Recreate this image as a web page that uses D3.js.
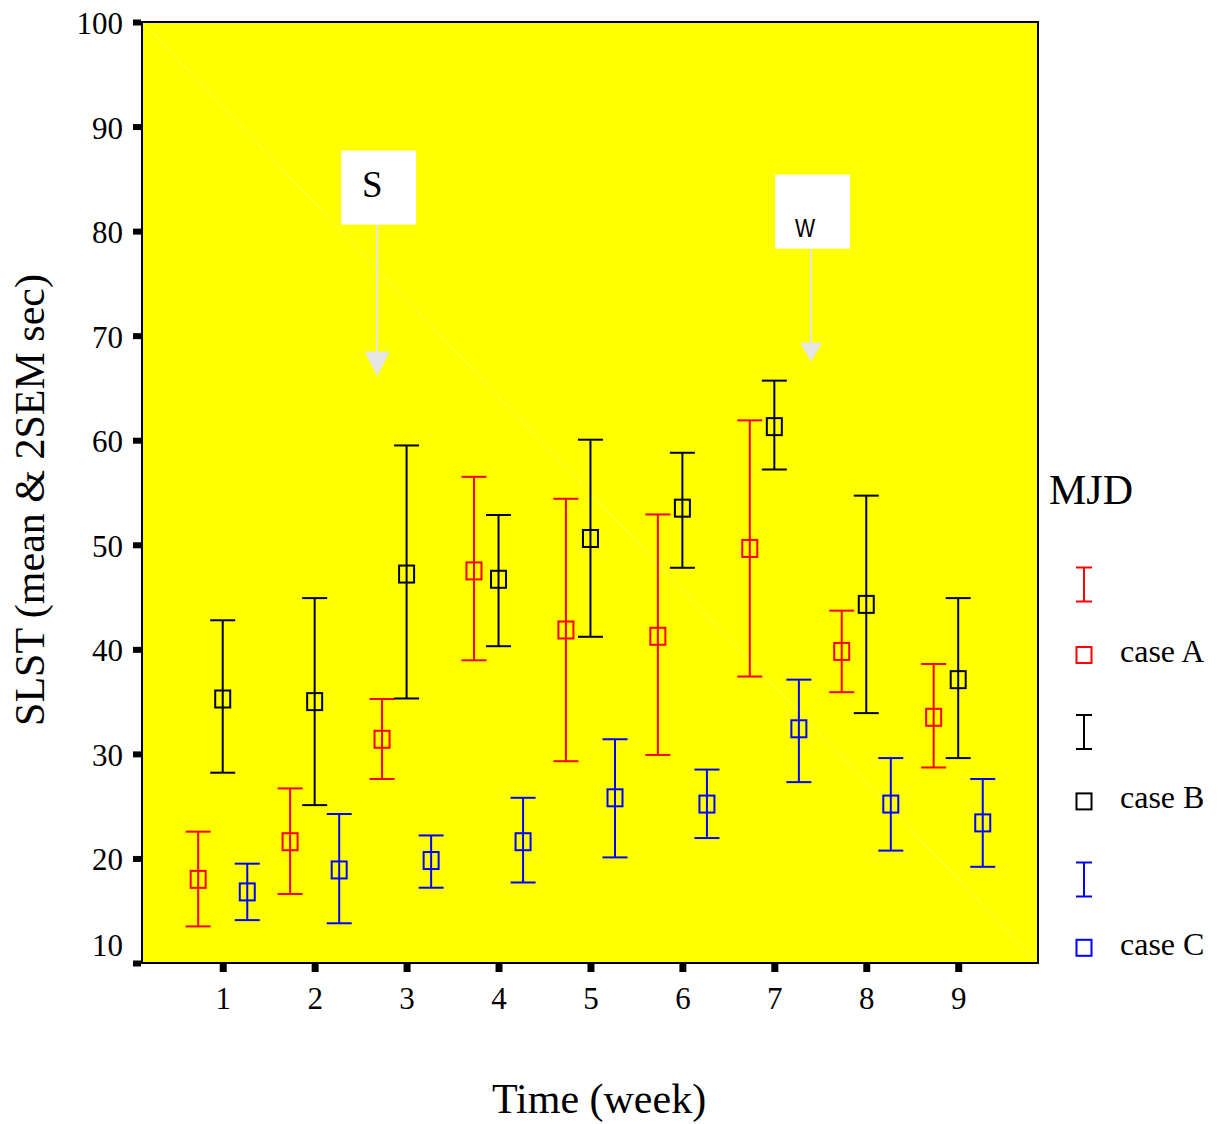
<!DOCTYPE html>
<html>
<head>
<meta charset="utf-8">
<script src="https://cdn.jsdelivr.net/npm/d3@7/dist/d3.min.js"></script>
<style>
  html, body { margin: 0; padding: 0; background: #ffffff; }
  svg { display: block; }
  text { font-family: "Liberation Serif", "Times New Roman", serif; fill: #000; }
</style>
</head>
<body>
<svg id="chart" width="1219" height="1124"></svg>
<script>
// Weekly SLST: mean with ±2 SEM bars for each MJD case
const weeks = [1, 2, 3, 4, 5, 6, 7, 8, 9];
const yTicks = [10, 20, 30, 40, 50, 60, 70, 80, 90, 100];

const caseNames = ["case A", "case B", "case C"];
const caseColors = ["#ff0000", "#000000", "#0000ff"];

const caseAMean  = [18.0, 21.6, 31.4, 47.5, 41.85, 41.25, 49.65, 39.8, 33.5];
const caseAUpper = [22.56, 26.7, 35.25, 56.5, 54.4, 52.9, 61.9, 43.7, 38.6];
const caseALower = [13.5, 16.6, 27.6, 38.95, 29.3, 29.9, 37.4, 35.9, 28.7];

const caseBMean  = [35.25, 35.0, 47.2, 46.7, 50.6, 53.5, 61.3, 44.3, 37.1];
const caseBUpper = [42.78, 44.9, 59.5, 52.85, 60.05, 58.8, 65.7, 54.7, 44.9];
const caseBLower = [28.2, 25.1, 35.3, 40.3, 41.2, 47.8, 57.2, 33.9, 29.6];

const caseCMean  = [16.8, 18.9, 19.8, 21.6, 25.8, 25.2, 32.4, 25.2, 23.4];
const caseCUpper = [19.5, 24.25, 22.2, 25.8, 31.4, 28.5, 37.1, 29.6, 27.6];
const caseCLower = [14.1, 13.8, 17.2, 17.7, 20.1, 21.95, 27.3, 20.75, 19.2];

// Event markers: label, week position, arrow tip value, box top value
const events = [
  { label: "S", week: 2.68, tip: 66.1, top: 87.7 },
  { label: "W", week: 7.40, tip: 67.5, top: 85.4 }
];

const svg = d3.select("#chart");
const plot = { left: 142, right: 1038, top: 22, bottom: 963 };

const x = d3.scaleLinear().domain([0.122, 9.868]).range([plot.left, plot.right]);
const y = d3.scaleLinear().domain([10, 100]).range([plot.bottom, plot.top]);
const offset = d3.scaleOrdinal().domain(caseNames).range([-0.267, 0, 0.267]);

const series = [
  { name: caseNames[0], color: caseColors[0], mean: caseAMean, upper: caseAUpper, lower: caseALower },
  { name: caseNames[1], color: caseColors[1], mean: caseBMean, upper: caseBUpper, lower: caseBLower },
  { name: caseNames[2], color: caseColors[2], mean: caseCMean, upper: caseCUpper, lower: caseCLower }
];

// Plot background
svg.append("rect")
  .attr("x", plot.left).attr("y", plot.top)
  .attr("width", plot.right - plot.left).attr("height", plot.bottom - plot.top)
  .attr("fill", "#ffff00");

// faint diagonal across the panel
svg.append("line")
  .attr("x1", plot.left).attr("y1", plot.top)
  .attr("x2", plot.right).attr("y2", plot.bottom)
  .attr("stroke", "#ffff80").attr("stroke-width", 0.7);

// Event annotations
const ev = svg.append("g").attr("class", "events");
events.forEach(e => {
  const cx = x(e.week);
  const boxTop = y(e.top);
  const boxH = 74, boxW = 75;
  const tipY = y(e.tip);
  const headH = e.label === "S" ? 25 : 19;
  const headW = e.label === "S" ? 25 : 22;
  ev.append("rect")
    .attr("x", cx - 36).attr("y", boxTop)
    .attr("width", boxW).attr("height", boxH)
    .attr("fill", "#ffffff");
  ev.append("line")
    .attr("x1", cx).attr("x2", cx)
    .attr("y1", boxTop + boxH).attr("y2", tipY - headH + 1)
    .attr("stroke", "#e6e6e6").attr("stroke-width", 2);
  ev.append("path")
    .attr("d", `M${cx - headW / 2},${tipY - headH} L${cx + headW / 2},${tipY - headH} L${cx},${tipY} Z`)
    .attr("fill", "#e6e6e6");
  if (e.label === "S") {
    ev.append("text")
      .attr("x", cx - 5).attr("y", boxTop + 46)
      .attr("text-anchor", "middle")
      .style("font-size", "37px")
      .text(e.label);
  } else {
    ev.append("text")
      .attr("transform", `translate(${cx - 6},${boxTop + 62}) scale(0.82,1)`)
      .attr("text-anchor", "middle")
      .style("font-family", "'Liberation Sans', Arial, sans-serif")
      .style("font-size", "26px")
      .text(e.label);
  }
});

// Error bars and mean markers
const capW = 25, boxW = 15, boxH = 17;
series.forEach(s => {
  const g = svg.append("g").attr("class", "series")
    .attr("stroke", s.color).attr("stroke-width", 2).attr("fill", "none");
  const pts = weeks.map((w, i) => ({ w, mean: s.mean[i], hi: s.upper[i], lo: s.lower[i] }));
  const cxOf = d => x(d.w + offset(s.name));
  g.selectAll("line.whisker").data(pts).join("line")
    .attr("class", "whisker")
    .attr("x1", cxOf).attr("x2", cxOf)
    .attr("y1", d => y(d.hi)).attr("y2", d => y(d.lo));
  g.selectAll("line.capHi").data(pts).join("line")
    .attr("class", "capHi")
    .attr("x1", d => cxOf(d) - capW / 2).attr("x2", d => cxOf(d) + capW / 2)
    .attr("y1", d => y(d.hi)).attr("y2", d => y(d.hi));
  g.selectAll("line.capLo").data(pts).join("line")
    .attr("class", "capLo")
    .attr("x1", d => cxOf(d) - capW / 2).attr("x2", d => cxOf(d) + capW / 2)
    .attr("y1", d => y(d.lo)).attr("y2", d => y(d.lo));
  g.selectAll("rect.mean").data(pts).join("rect")
    .attr("class", "mean")
    .attr("x", d => cxOf(d) - boxW / 2).attr("y", d => y(d.mean) - boxH / 2)
    .attr("width", boxW).attr("height", boxH);
});

// Frame
svg.append("rect")
  .attr("x", plot.left).attr("y", plot.top)
  .attr("width", plot.right - plot.left).attr("height", plot.bottom - plot.top)
  .attr("fill", "none").attr("stroke", "#000").attr("stroke-width", 2);

// Y axis
const yAxis = svg.append("g")
  .attr("transform", `translate(${plot.left - 1},0)`)
  .call(d3.axisLeft(y).tickValues(yTicks).tickSize(8).tickPadding(10).tickFormat(d3.format("d")));
yAxis.select(".domain").remove();
yAxis.selectAll(".tick line").attr("stroke", "#000").attr("stroke-width", 6);
yAxis.selectAll(".tick text")
  .style("font-size", "31px")
  .style("font-family", "'Liberation Serif', 'Times New Roman', serif")
  .attr("dy", "0.37em")
  .attr("y", d => d === 10 ? -19 : 0);

// X axis
const xAxis = svg.append("g")
  .attr("transform", `translate(0,${plot.bottom + 1})`)
  .call(d3.axisBottom(x).tickValues(weeks).tickSize(8).tickPadding(15).tickFormat(d3.format("d")));
xAxis.select(".domain").remove();
xAxis.selectAll(".tick line").attr("stroke", "#000").attr("stroke-width", 7);
xAxis.selectAll(".tick text")
  .style("font-size", "31px")
  .style("font-family", "'Liberation Serif', 'Times New Roman', serif");

// Axis titles
svg.append("text")
  .attr("x", 599).attr("y", 1113)
  .attr("text-anchor", "middle")
  .style("font-size", "42px")
  .text("Time (week)");

svg.append("text")
  .attr("transform", "translate(44,500) rotate(-90)")
  .attr("text-anchor", "middle")
  .style("font-size", "42px")
  .text("SLST (mean & 2SEM sec)");

// Legend
const legend = svg.append("g").attr("class", "legend");
legend.append("text")
  .attr("x", 1049).attr("y", 504)
  .style("font-size", "42px")
  .text("MJD");

series.forEach((s, i) => {
  const barY = 584.5 + 147.5 * i;
  const sqY = 655 + 146.4 * i;
  const lx = 1084;
  const lg = legend.append("g").attr("stroke", s.color).attr("stroke-width", 2).attr("fill", "none");
  lg.append("line").attr("x1", lx).attr("x2", lx).attr("y1", barY - 17).attr("y2", barY + 17);
  lg.append("line").attr("x1", lx - 8).attr("x2", lx + 8).attr("y1", barY - 17).attr("y2", barY - 17);
  lg.append("line").attr("x1", lx - 8).attr("x2", lx + 8).attr("y1", barY + 17).attr("y2", barY + 17);
  lg.append("rect").attr("x", lx - 7.5).attr("y", sqY - 8).attr("width", 15).attr("height", 16);
  legend.append("text")
    .attr("x", 1120).attr("y", sqY + 7)
    .style("font-size", "32px")
    .text(s.name);
});
</script>
</body>
</html>
